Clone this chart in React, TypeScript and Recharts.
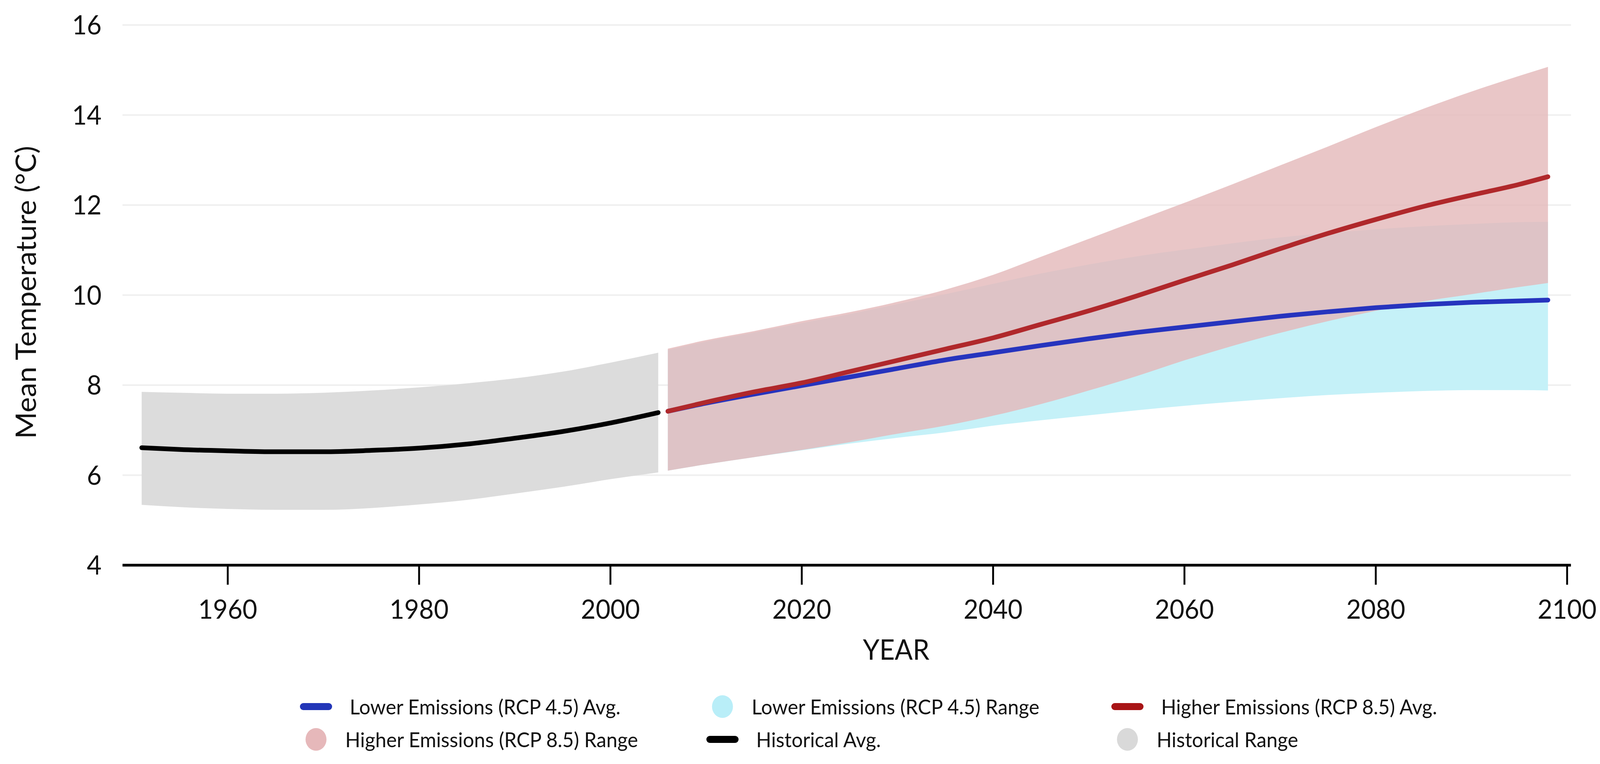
import React from 'react';
import { ComposedChart, Area, Line, XAxis, YAxis, CartesianGrid, Legend } from 'recharts';

// ---------- data ----------
const histYears = [1951, 1955, 1960, 1965, 1970, 1975, 1980, 1985, 1990, 1995, 2000, 2005];
const histAvg = [6.61, 6.57, 6.54, 6.52, 6.52, 6.55, 6.6, 6.69, 6.82, 6.97, 7.16, 7.39];
const histLow = [5.34, 5.29, 5.25, 5.23, 5.23, 5.27, 5.35, 5.45, 5.59, 5.74, 5.91, 6.06];
const histHigh = [7.85, 7.83, 7.81, 7.81, 7.83, 7.88, 7.95, 8.04, 8.15, 8.3, 8.5, 8.72];

const projYears = [2006, 2010, 2015, 2020, 2025, 2030, 2035, 2040, 2045, 2050, 2055, 2060, 2065, 2070, 2075, 2080, 2085, 2090, 2095, 2098];
const rcp45Avg = [7.42, 7.6, 7.8, 7.99, 8.18, 8.37, 8.56, 8.72, 8.88, 9.03, 9.17, 9.29, 9.41, 9.53, 9.63, 9.72, 9.79, 9.84, 9.87, 9.89];
const rcp45Low = [6.1, 6.24, 6.4, 6.55, 6.7, 6.83, 6.95, 7.1, 7.22, 7.33, 7.44, 7.54, 7.63, 7.71, 7.78, 7.83, 7.87, 7.89, 7.89, 7.88];
const rcp45High = [8.78, 8.97, 9.17, 9.38, 9.58, 9.8, 10.02, 10.25, 10.48, 10.68, 10.86, 11.01, 11.15, 11.28, 11.38, 11.46, 11.53, 11.58, 11.62, 11.63];
const rcp85Avg = [7.42, 7.62, 7.85, 8.05, 8.3, 8.55, 8.8, 9.05, 9.35, 9.65, 9.98, 10.33, 10.67, 11.03, 11.37, 11.68, 11.97, 12.22, 12.46, 12.63];
const rcp85Low = [6.1, 6.24, 6.4, 6.56, 6.73, 6.92, 7.1, 7.32, 7.58, 7.88, 8.2, 8.55, 8.87, 9.16, 9.42, 9.65, 9.86, 10.02, 10.18, 10.27];
const rcp85High = [8.81, 9.0, 9.2, 9.42, 9.62, 9.85, 10.12, 10.45, 10.85, 11.25, 11.65, 12.05, 12.46, 12.88, 13.3, 13.73, 14.14, 14.52, 14.87, 15.07];

const xTicks = [1960, 1980, 2000, 2020, 2040, 2060, 2080, 2100];
const yTicks = [4, 6, 8, 10, 12, 14, 16];

const seriesNames = {
  rcp45: 'Lower Emissions (RCP 4.5) Avg.',
  rcp45Range: 'Lower Emissions (RCP 4.5) Range',
  rcp85: 'Higher Emissions (RCP 8.5) Avg.',
  rcp85Range: 'Higher Emissions (RCP 8.5) Range',
  hist: 'Historical Avg.',
  histRange: 'Historical Range',
};

// ---------- table built from the arrays ----------
const rows: any[] = [
  ...histYears.map((year, i) => ({ year, hist: histAvg[i], histRange: [histLow[i], histHigh[i]] })),
  ...projYears.map((year, i) => ({
    year,
    rcp45: rcp45Avg[i],
    rcp45Range: [rcp45Low[i], rcp45High[i]],
    rcp85: rcp85Avg[i],
    rcp85Range: [rcp85Low[i], rcp85High[i]],
  })),
];

// ---------- styles ----------
const FONT = "Lato, 'Open Sans', sans-serif";
const COLORS = {
  rcp45: '#2634be',
  rcp45Range: '#c5f1f8',
  rcp85: '#b0282b',
  rcp85Range: 'rgb(228,184,185)',
  hist: '#000000',
  histRange: '#dcdcdc',
};
const LEGEND_COLORS = {
  rcp45: '#2336b8',
  rcp45Range: '#b9eef8',
  rcp85: '#a81416',
  rcp85Range: '#e6b8ba',
  hist: '#000000',
  histRange: '#d9d9d9',
};

// design size (reference page is 4275 wide); the browser viewport may be narrower,
// so the whole chart is compressed horizontally to fit it.
const W = 4259;
const H = 1940;
const REF_PAGE_W = 4275;

const legendOrder: { key: keyof typeof seriesNames; kind: 'line' | 'circle' }[] = [
  { key: 'rcp45', kind: 'line' },
  { key: 'rcp45Range', kind: 'circle' },
  { key: 'rcp85', kind: 'line' },
  { key: 'rcp85Range', kind: 'circle' },
  { key: 'hist', kind: 'line' },
  { key: 'histRange', kind: 'circle' },
];
const colCenters = [836, 1922, 3004];
const rowCenters = [41, 125];

const LegendContent = () => (
  <div style={{ position: 'relative', width: W, height: 170, fontFamily: FONT }}>
    {legendOrder.map((item, i) => {
      const cx = colCenters[i % 3];
      const cy = rowCenters[Math.floor(i / 3)];
      const isLine = item.kind === 'line';
      return (
        <React.Fragment key={item.key}>
          {isLine ? (
            <div
              style={{
                position: 'absolute',
                left: cx - 43,
                top: cy - 9,
                width: 86,
                height: 18,
                borderRadius: 9,
                background: LEGEND_COLORS[item.key],
              }}
            />
          ) : (
            <div
              style={{
                position: 'absolute',
                left: cx - 28,
                top: cy - 29,
                width: 56,
                height: 58,
                borderRadius: '50%',
                background: LEGEND_COLORS[item.key],
              }}
            />
          )}
          <div
            style={{
              position: 'absolute',
              left: cx + (isLine ? 90 : 78),
              top: cy,
              transform: 'translateY(-50%)',
              fontSize: 53,
              lineHeight: '60px',
              whiteSpace: 'nowrap',
              color: '#111',
            }}
          >
            {seriesNames[item.key]}
          </div>
        </React.Fragment>
      );
    })}
  </div>
);

const YTitle = (props: any) => {
  const vb = props.viewBox || {};
  const x = (vb.x ?? 0) + 59;
  const y = (vb.y ?? 56) + (vb.height ?? 1383) / 2 - 7;
  return (
    <text
      x={x}
      y={y}
      transform={`rotate(-90 ${x} ${y})`}
      textAnchor="middle"
      dominantBaseline="central"
      fontSize={74}
      fontFamily={FONT}
      fill="#111"
    >
      Mean Temperature (°C)
    </text>
  );
};

const XTitle = (props: any) => {
  const vb = props.viewBox || {};
  const x = (vb.x ?? 319) + 2067;
  const y = (vb.y ?? 1439) + 242;
  return (
    <text x={x} y={y} textAnchor="middle" fontSize={71} fontFamily={FONT} fill="#111">
      YEAR
    </text>
  );
};

export default function App() {
  const vw = typeof window !== 'undefined' && window.innerWidth ? window.innerWidth : REF_PAGE_W;
  const k = Math.min(1, vw / REF_PAGE_W);
  return (
    <div style={{ width: Math.floor(W * k), height: H, overflow: 'hidden', background: '#fff' }}>
      <div
        style={{
          width: W,
          height: H,
          background: '#fff',
          fontFamily: FONT,
          transform: `scale(${k}, 1)`,
          transformOrigin: '0 0',
        }}
      >
        <ComposedChart width={W} height={H} data={rows} margin={{ top: 56, right: 70, bottom: 10, left: 0 }}>
          <CartesianGrid horizontal vertical={false} stroke="#efefef" strokeWidth={4} />
          <XAxis
            dataKey="year"
            type="number"
            domain={[1949, 2100.4]}
            ticks={xTicks}
            allowDataOverflow
            height={321}
            axisLine={{ stroke: '#000', strokeWidth: 7 }}
            tickLine={{ stroke: '#000', strokeWidth: 5 }}
            tickSize={50}
            tickMargin={39}
            tick={{ fontSize: 68, fill: '#111', fontFamily: FONT }}
            label={<XTitle />}
          />
          <YAxis
            type="number"
            domain={[4, 16]}
            ticks={yTicks}
            width={319}
            axisLine={false}
            tickLine={false}
            tickSize={0}
            tickMargin={56}
            tick={{ fontSize: 68, fill: '#111', fontFamily: FONT }}
            label={<YTitle />}
          />
          <Legend verticalAlign="bottom" height={170} content={<LegendContent />} wrapperStyle={{ left: 0, bottom: 10, width: W, height: 170 }} />
          <Area
            dataKey="histRange"
            name={seriesNames.histRange}
            type="monotone"
            stroke="none"
            fill={COLORS.histRange}
            fillOpacity={1}
            isAnimationActive={false}
            activeDot={false}
          />
          <Area
            dataKey="rcp45Range"
            name={seriesNames.rcp45Range}
            type="monotone"
            stroke="none"
            fill={COLORS.rcp45Range}
            fillOpacity={1}
            isAnimationActive={false}
            activeDot={false}
          />
          <Area
            dataKey="rcp85Range"
            name={seriesNames.rcp85Range}
            type="monotone"
            stroke="none"
            fill={COLORS.rcp85Range}
            fillOpacity={0.8}
            isAnimationActive={false}
            activeDot={false}
          />
          <Line
            dataKey="hist"
            name={seriesNames.hist}
            type="monotone"
            stroke={COLORS.hist}
            strokeWidth={12}
            strokeLinecap="round"
            dot={false}
            isAnimationActive={false}
          />
          <Line
            dataKey="rcp45"
            name={seriesNames.rcp45}
            type="monotone"
            stroke={COLORS.rcp45}
            strokeWidth={12}
            strokeLinecap="round"
            dot={false}
            isAnimationActive={false}
          />
          <Line
            dataKey="rcp85"
            name={seriesNames.rcp85}
            type="monotone"
            stroke={COLORS.rcp85}
            strokeWidth={12}
            strokeLinecap="round"
            dot={false}
            isAnimationActive={false}
          />
        </ComposedChart>
      </div>
    </div>
  );
}
